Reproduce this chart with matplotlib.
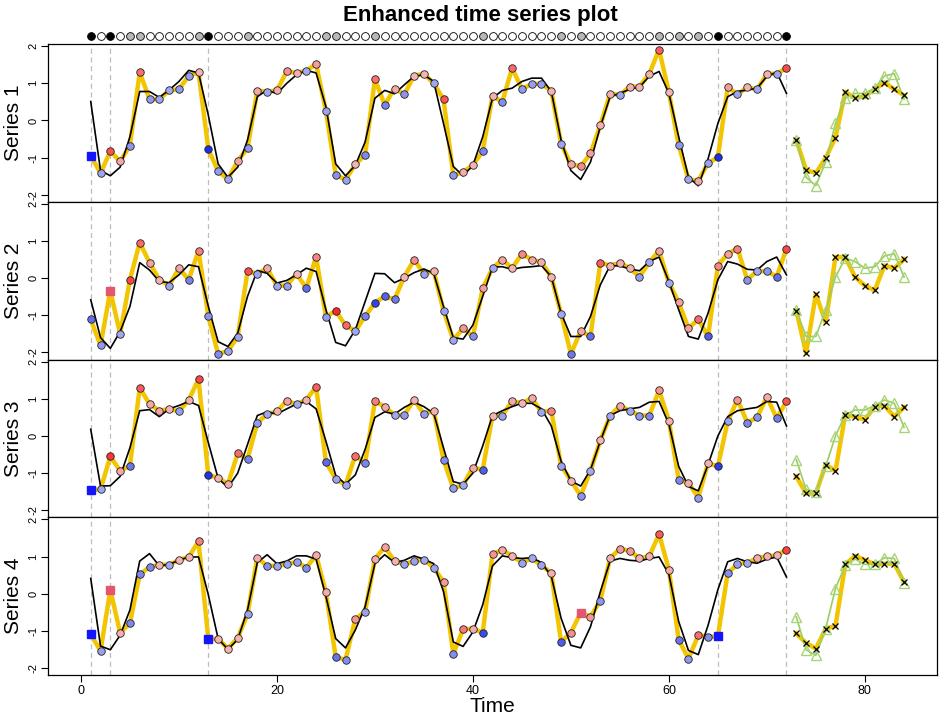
import numpy as np
import matplotlib
matplotlib.use("Agg")
import matplotlib.pyplot as plt
from matplotlib.colors import to_rgb

plt.rcParams['font.family'] = ['Liberation Sans', 'DejaVu Sans']

# ---- data -------------------------------------------------------------
time_obs = np.arange(1, 73)
time_test = np.arange(73, 85)

s1_obs = [-0.95, -1.42, -0.83, -1.10, -0.68, 1.30, 0.57, 0.57, 0.81, 0.84,
          1.20, 1.30, -0.77, -1.37, -1.58, -1.09, -0.75, 0.80, 0.78, 0.81,
          1.32, 1.28, 1.34, 1.52, 0.26, -1.46, -1.60, -1.18, -0.93, 1.11,
          0.42, 0.86, 0.70, 1.21, 1.26, 1.00, 0.57, -1.48, -1.39, -1.20,
          -0.83, 0.66, 0.50, 1.41, 0.85, 0.98, 0.99, 0.80, -0.63, -1.18,
          -1.24, -0.89, -0.13, 0.72, 0.69, 0.91, 0.91, 1.26, 1.91, 0.76,
          -0.67, -1.59, -1.62, -1.15, -0.99, 0.89, 0.71, 0.89, 0.84, 1.25,
          1.26, 1.41]
s1_fit = [0.51, -1.35, -1.49, -1.26, -0.44, 0.78, 0.78, 0.62, 0.82, 1.05,
          1.35, 1.28, 0.14, -1.17, -1.53, -1.26, -0.53, 0.64, 0.82, 0.72,
          1.00, 1.23, 1.35, 1.28, 0.37, -1.17, -1.49, -1.21, -0.58, 0.60,
          0.81, 0.72, 0.96, 1.19, 1.23, 1.05, -0.08, -1.24, -1.49, -1.21,
          -0.44, 0.60, 0.81, 0.87, 1.05, 1.14, 1.14, 0.78, -0.53, -1.35,
          -1.59, -1.12, -0.17, 0.64, 0.73, 0.84, 0.90, 1.19, 1.32, 0.73,
          -0.44, -1.53, -1.76, -1.03, -0.08, 0.64, 0.78, 0.82, 0.87, 1.19,
          1.30, 0.73]
s1_test = [-0.53, -1.33, -1.42, -1.01, -0.46, 0.77, 0.60, 0.66, 0.84, 1.02, 0.84, 0.68]
s1_fc = [-0.52, -1.53, -1.76, -1.12, -0.08, 0.60, 0.73, 0.73, 0.87, 1.20, 1.26, 0.57]

s2_obs = [-1.11, -1.81, -0.34, -1.50, -0.04, 0.96, 0.42, -0.04, -0.20, 0.27,
          -0.04, 0.74, -1.03, -2.04, -1.96, -1.58, 0.19, 0.12, 0.27, -0.20,
          -0.20, 0.12, -0.27, 0.58, -1.04, -0.88, -1.27, -1.42, -1.03, -0.66,
          -0.49, -0.57, 0.04, 0.50, 0.12, 0.20, -0.88, -1.66, -1.35, -1.57,
          -0.27, 0.27, 0.50, 0.27, 0.66, 0.50, 0.43, 0.04, -0.96, -2.04,
          -1.42, -1.57, 0.42, 0.34, 0.42, 0.27, 0.04, 0.43, 0.74, -0.12,
          -0.65, -1.35, -1.11, -1.57, 0.34, 0.66, 0.80, -0.04, 0.19, 0.19,
          0.04, 0.80]
s2_fit = [-0.58, -1.60, -1.89, -1.44, -0.76, 0.42, 0.22, -0.09, -0.12, 0.09,
          0.36, 0.31, -0.76, -1.71, -1.84, -1.48, -0.49, 0.21, 0.13, -0.13,
          -0.06, 0.09, 0.27, 0.18, -0.85, -1.73, -1.82, -1.39, -0.63, 0.13,
          0.12, -0.12, 0.00, 0.15, 0.25, 0.13, -0.76, -1.60, -1.64, -1.26,
          -0.49, 0.30, 0.31, 0.24, 0.29, 0.31, 0.34, 0.04, -0.94, -1.57,
          -1.57, -1.03, -0.18, 0.34, 0.33, 0.25, 0.20, 0.45, 0.57, -0.09,
          -0.85, -1.57, -1.64, -0.94, -0.04, 0.45, 0.38, 0.24, 0.22, 0.45,
          0.57, 0.09]
s2_test = [-0.87, -2.02, -0.43, -1.19, 0.57, 0.57, 0.03, -0.20, -0.33, 0.34, 0.27, 0.51]
s2_fc = [-0.85, -1.57, -1.57, -0.85, 0.03, 0.54, 0.45, 0.27, 0.31, 0.60, 0.66, 0.03]

s3_obs = [-1.46, -1.44, -0.55, -0.94, -0.80, 1.30, 0.86, 0.68, 0.73, 0.66,
          0.97, 1.53, -1.06, -1.12, -1.30, -0.47, -0.62, 0.35, 0.59, 0.66,
          0.95, 0.85, 0.98, 1.32, -0.70, -1.16, -1.32, -0.53, -0.73, 0.93,
          0.79, 0.56, 0.56, 0.98, 0.59, 0.68, -0.65, -1.41, -1.32, -0.85,
          -0.91, 0.55, 0.55, 0.94, 0.88, 1.02, 0.65, 0.68, -0.80, -1.20,
          -1.61, -0.94, -0.12, 0.54, 0.82, 0.68, 0.55, 0.55, 1.23, 0.41,
          -1.18, -1.27, -1.66, -0.73, -0.82, 0.39, 0.98, 0.36, 0.50, 1.05,
          0.48, 0.93]
s3_fit = [0.18, -1.35, -1.34, -1.09, -0.32, 0.68, 0.71, 0.52, 0.73, 0.82,
          0.93, 0.82, -0.18, -1.14, -1.39, -1.00, -0.23, 0.55, 0.65, 0.59,
          0.73, 0.86, 0.93, 0.73, -0.14, -1.06, -1.30, -1.05, -0.36, 0.50,
          0.65, 0.59, 0.77, 0.91, 0.79, 0.61, -0.32, -1.23, -1.30, -1.00,
          -0.27, 0.55, 0.68, 0.79, 0.88, 0.88, 0.73, 0.27, -0.68, -1.21,
          -1.35, -0.91, -0.14, 0.55, 0.68, 0.73, 0.77, 0.91, 0.93, 0.32,
          -0.82, -1.36, -1.48, -0.77, 0.00, 0.52, 0.68, 0.73, 0.77, 0.93,
          0.91, 0.27]
s3_test = [-1.09, -1.55, -1.55, -0.77, -0.94, 0.57, 0.52, 0.44, 0.79, 0.82, 0.52, 0.77]
s3_fc = [-0.64, -1.44, -1.50, -0.82, 0.00, 0.57, 0.70, 0.70, 0.82, 0.97, 0.88, 0.23]

s4_obs = [-1.09, -1.54, 0.10, -1.05, -0.80, 0.52, 0.72, 0.78, 0.78, 0.91,
          0.99, 1.41, -1.23, -1.21, -1.48, -1.19, -0.55, 0.97, 0.75, 0.75,
          0.79, 0.86, 0.70, 1.04, 0.04, -1.71, -1.78, -0.68, -0.48, 0.94,
          1.26, 0.88, 0.79, 0.88, 0.92, 0.70, 0.32, -1.62, -0.96, -0.94,
          -1.05, 1.06, 1.18, 1.02, 0.84, 0.95, 0.77, 0.55, -1.30, -1.05,
          -0.51, -0.62, -0.19, 0.96, 1.21, 1.16, 0.95, 1.01, 1.60, 0.65,
          -1.24, -1.75, -1.12, -1.16, -1.15, 0.56, 0.79, 0.84, 0.95, 1.01,
          1.03, 1.19]
s4_fit = [0.41, -1.41, -1.51, -1.12, -0.44, 0.88, 1.08, 0.75, 0.79, 0.90,
          0.99, 0.99, -0.03, -1.21, -1.50, -1.23, -0.44, 0.84, 1.05, 0.81,
          0.88, 1.02, 1.02, 0.93, -0.07, -1.21, -1.46, -0.98, -0.35, 0.81,
          1.05, 0.84, 0.90, 1.02, 0.93, 0.81, 0.06, -1.30, -1.42, -1.03,
          -0.30, 0.75, 1.02, 0.97, 0.95, 0.97, 0.84, 0.47, -0.66, -1.39,
          -1.46, -0.89, 0.05, 0.88, 0.95, 0.90, 0.88, 0.95, 0.99, 0.52,
          -0.75, -1.53, -1.64, -0.85, 0.11, 0.86, 0.95, 0.86, 0.82, 0.93,
          0.99, 0.45]
s4_test = [-1.07, -1.33, -1.48, -0.94, -0.87, 0.79, 1.02, 0.91, 0.79, 0.81, 0.81, 0.31]
s4_fc = [-0.62, -1.51, -1.66, -0.94, 0.14, 0.77, 0.93, 0.79, 0.79, 0.97, 0.95, 0.29]

series_names = ['Series 1', 'Series 2', 'Series 3', 'Series 4']
anomalies = [[1], [3], [1], [1, 3, 13, 51, 65]]
event_times = [1, 3, 13, 65, 72]
# times whose marker in the top strip is grey (partly flagged)
flag_times = [5, 6, 12, 17, 25, 26, 30, 41, 49, 51, 59, 61, 63]

obs_all = [s1_obs, s2_obs, s3_obs, s4_obs]
fit_all = [s1_fit, s2_fit, s3_fit, s4_fit]
test_all = [s1_test, s2_test, s3_test, s4_test]
fc_all = [s1_fc, s2_fc, s3_fc, s4_fc]

# ---- helpers ----------------------------------------------------------
pos_light, pos_dark = np.array(to_rgb('#F7B3B3')), np.array(to_rgb('#FF1A1A'))
neg_light, neg_dark = np.array(to_rgb('#A2A9F2')), np.array(to_rgb('#1E2EE6'))


def resid_color(r):
    a = min(abs(r) / 0.9, 1.0) ** 1.4
    if r >= 0:
        return tuple((1 - a) * pos_light + a * pos_dark)
    return tuple((1 - a) * neg_light + a * neg_dark)


W, H = 949, 723
fig = plt.figure(figsize=(W / 100, H / 100), dpi=100)
left, right = 48 / W, 937 / W
top, bottom = 1 - 44 / H, 1 - 675 / H
ph = (top - bottom) / 4
xlim = (-3.36, 87.36)
ylim = (-2.19, 2.06)

for i in range(4):
    ax = fig.add_axes([left, top - (i + 1) * ph, right - left, ph])
    obs = np.array(obs_all[i])
    fit = np.array(fit_all[i])

    for t in event_times:
        ax.axvline(t, color='#BDBDBD', lw=0.9, ls=(0, (4, 3)), zorder=1)

    ax.plot(time_obs, obs, color='#F2C500', lw=3.2, zorder=2, solid_capstyle='round')
    ax.plot(time_obs, fit, color='black', lw=1.2, zorder=3)

    resid = obs - fit
    for t, y, r in zip(time_obs, obs, resid):
        if t in anomalies[i]:
            c = '#1414FF' if r < 0 else '#E3566F'
            ax.plot(t, y, marker='s', ms=5.8, color=c, mec=c, zorder=5)
        else:
            ax.plot(t, y, marker='o', ms=5.4, mfc=resid_color(r), mec='#222222',
                    mew=0.6, zorder=4)

    # hold-out period
    ax.plot(time_test, test_all[i], color='#F2C500', lw=3.2, zorder=2)
    ax.plot(time_test, fc_all[i], color='#9ACD63', lw=1.2, marker='^', ms=7,
            mfc='none', mec='#A6D477', mew=1.0, zorder=3)
    ax.plot(time_test, test_all[i], ls='none', marker='x', ms=5, color='black',
            mew=0.9, zorder=4)

    ax.set_xlim(xlim)
    ax.set_ylim(ylim)
    ax.set_yticks([-2, -1, 0, 1, 2])
    ax.set_yticklabels(['-2', '-1', '0', '1', '2'], rotation=90, va='center')
    ax.tick_params(axis='y', length=5, width=0.8, labelsize=8, pad=2)
    ax.set_ylabel(series_names[i], fontsize=15, labelpad=4)
    for sp in ax.spines.values():
        sp.set_linewidth(0.9)
    if i < 3:
        ax.tick_params(axis='x', bottom=False, labelbottom=False)
    else:
        ax.set_xticks([0, 20, 40, 60, 80])
        ax.tick_params(axis='x', length=5, width=0.8, labelsize=9, pad=2)
        ax.set_xlabel('Time', fontsize=15, labelpad=0)

# top strip of event markers
strip = fig.add_axes([left, 1 - 43 / H, right - left, 14 / H])
strip.set_xlim(xlim)
strip.set_ylim(0, 1)
strip.axis('off')
for t in time_obs:
    if t in event_times:
        g = 0.0
    elif t in flag_times:
        g = 0.72
    else:
        g = 1.0
    strip.plot(t, 0.5, marker='o', ms=5.6, mfc=(g, g, g), mec='black', mew=0.6,
               clip_on=False)

fig.text(0.506, 1 - 15 / H, 'Enhanced time series plot', ha='center', va='center',
         fontsize=16, fontweight='bold')

fig.savefig('out.png', dpi=100)
